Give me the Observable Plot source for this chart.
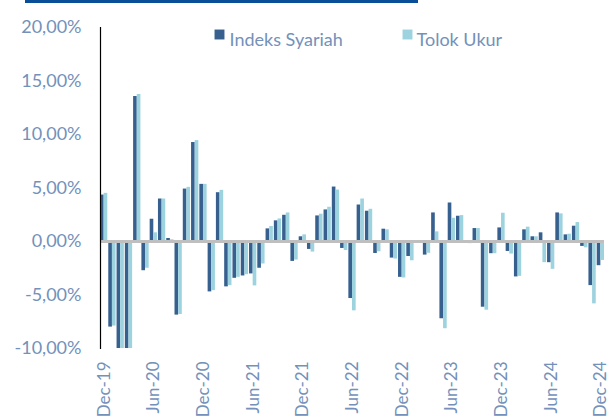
<!DOCTYPE html>
<html>
<head>
<meta charset="utf-8">
<script src="https://cdn.jsdelivr.net/npm/d3@7"></script>
<script src="https://cdn.jsdelivr.net/npm/@observablehq/plot@0.6"></script>
<style>
  html, body { margin: 0; padding: 0; background: #fff; }
  #wrap { position: relative; width: 616px; height: 419px; overflow: hidden; }
  #topbar { position: absolute; left: 25px; top: 0; width: 393px; height: 3px; background: #0b4e98; }
</style>
</head>
<body>
<div id="wrap"><div id="topbar"></div><div id="chart"></div></div>
<script>
const seriesNames = ["Indeks Syariah", "Tolok Ukur"];
const seriesColors = ["#37608f", "#9dd3df"];

// monthly returns (%), Dec-19 .. Dec-24
const months = d3.utcMonth.range(new Date(Date.UTC(2019, 11, 1)), new Date(Date.UTC(2025, 0, 1)))
  .map(d3.utcFormat("%b-%y"));

const syariah = [4.34, -8.0, -10, -10, 13.55, -2.73, 2.08, 3.97, 0.28, -6.88,
  4.9, 9.25, 5.34, -4.71, 4.56, -4.24, -3.44, -3.22, -3.03, -2.5,
  1.18, 1.93, 2.45, -1.86, 0.44, -0.74, 2.39, 2.95, 5.09, -0.65,
  -5.33, 3.41, 2.83, -1.12, 1.15, -1.55, -3.35, -1.4, 0.0, -1.27,
  2.67, -7.22, 3.6, 2.36, -0.1, 1.21, -6.14, -1.14, 1.27, -0.93,
  -3.31, 1.09, 0.44, 0.81, -1.98, 2.67, 0.62, 1.43, -0.46, -4.12, -2.26];

const tolok = [4.5, -7.9, -10, -10, 13.74, -2.5, 0.81, 3.97, 0.16, -6.82,
  5.06, 9.43, 5.34, -4.59, 4.78, -4.12, -3.35, -3.1, -4.15, -2.1,
  1.4, 2.11, 2.67, -1.73, 0.62, -0.99, 2.55, 3.2, 4.81, -0.84,
  -6.48, 3.97, 3.01, -0.96, 1.09, -1.64, -3.41, -1.8, 0.05, -1.1,
  0.9, -8.15, 2.17, 2.42, -0.2, 1.21, -6.42, -1.14, 2.64, -1.17,
  -3.26, 1.34, 0.44, -1.98, -2.6, 2.58, 0.68, 1.77, -0.59, -5.83, -1.77];

const yTicks = [-10, -5, 0, 5, 10, 15, 20];
const xTickLabels = months.filter((d, i) => i % 6 === 0);

const dataS = months.map((m, i) => ({month: m, value: syariah[i], series: seriesNames[0]}));
const dataT = months.map((m, i) => ({month: m, value: tolok[i], series: seriesNames[1]}));

const textColor = "#7391ba";
const fmt = d => d.toFixed(2).replace(".", ",") + "%";

// legend entries: swatch offset and label offset from the frame's top-left corner
const legendOffsets = [[119, 129], [307, 316]];
const legendMarks = seriesNames.flatMap((s, i) => [
  Plot.dot([s], {frameAnchor: "top-left", dx: legendOffsets[i][0], dy: 7, symbol: "square", r: 5.6, fill: seriesColors[i], stroke: null}),
  Plot.text([s], {frameAnchor: "top-left", dx: legendOffsets[i][1], dy: 6, text: d => d, textAnchor: "start", fontSize: 18, fill: textColor})
]);

const chart = Plot.plot({
  width: 616,
  height: 419,
  marginLeft: 100,
  marginRight: 12,
  marginTop: 27,
  marginBottom: 71,
  style: {fontFamily: "Lato, 'Open Sans', sans-serif", background: "transparent"},
  x: {domain: months, paddingInner: 0.12, paddingOuter: 0, round: false, label: null},
  y: {domain: [-10, 20], label: null},
  marks: [
    Plot.barY(dataS, {x: "month", y: "value", fill: seriesColors[0], insetLeft: 0, insetRight: 3.65}),
    Plot.barY(dataT, {x: "month", y: "value", fill: seriesColors[1], insetLeft: 3.65, insetRight: 0}),
    Plot.ruleY([0], {stroke: "#bfbfbf", strokeWidth: 3}),
    Plot.frame({anchor: "left", stroke: "#000", strokeWidth: 1.2}),
    Plot.axisY({ticks: yTicks, tickFormat: fmt, tickSize: 0, tickPadding: 19, fontSize: 18, fill: textColor, label: null}),
    Plot.axisX({ticks: xTickLabels, tickRotate: -90, tickSize: 0, tickPadding: 13, fontSize: 17, fill: textColor, label: null}),
    ...legendMarks
  ]
});
document.getElementById("chart").appendChild(chart);
</script>
</body>
</html>
